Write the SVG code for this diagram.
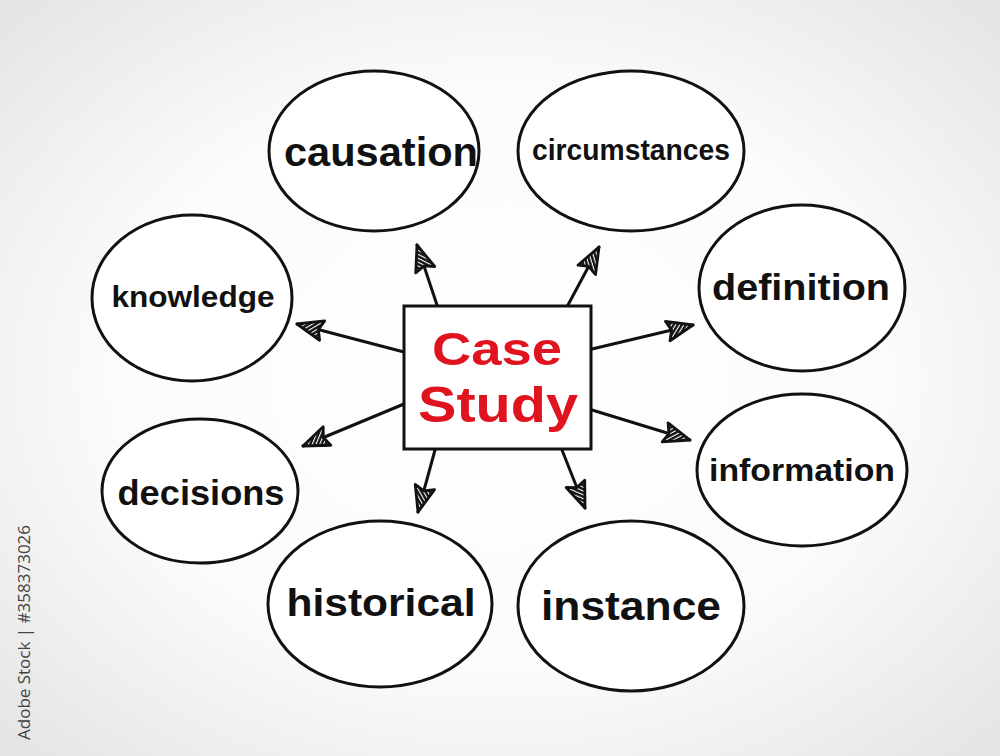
<svg xmlns="http://www.w3.org/2000/svg" width="1000" height="756" viewBox="0 0 1000 756">
<defs>
<radialGradient id="bg" cx="50%" cy="50%" r="70%">
<stop offset="0" stop-color="#ffffff"/>
<stop offset="0.55" stop-color="#fbfbfb"/>
<stop offset="1" stop-color="#e4e4e4"/>
</radialGradient>
<pattern id="hatch" width="3.5" height="3.5" patternUnits="userSpaceOnUse" patternTransform="rotate(45)">
<rect width="3.5" height="3.5" fill="#ffffff"/>
<rect width="2.4" height="3.5" fill="#111"/>
</pattern>
<marker id="arr" viewBox="0 0 30 24" refX="28" refY="12" markerWidth="30" markerHeight="24" markerUnits="userSpaceOnUse" orient="auto">
<path d="M2,2 L28,12 L2,22 L6,12 Z" fill="url(#hatch)" stroke="#111" stroke-width="2.8" stroke-linejoin="round"/>
</marker>
</defs>
<style>
.node ellipse{fill:#ffffff;stroke:#111;stroke-width:3}
.lbl{font-family:"Liberation Sans","Open Sans",sans-serif;font-weight:bold;fill:#111;text-anchor:middle}
.conn line{stroke:#111;stroke-width:3;stroke-linecap:round}
.ctext{font-family:"Liberation Sans","Open Sans",sans-serif;font-weight:bold;fill:#e0141e;text-anchor:middle}
</style>
<rect width="1000" height="756" fill="url(#bg)"/>
<text transform="translate(30,740) rotate(-90)" font-family="Open Sans, sans-serif" font-size="17" fill="#444">Adobe Stock | #358373026</text>

<g id="connectors" class="conn">
<line x1="437" y1="305" x2="417" y2="245" marker-end="url(#arr)"/>
<line x1="568" y1="305" x2="599" y2="247" marker-end="url(#arr)"/>
<line x1="404" y1="352" x2="297" y2="324" marker-end="url(#arr)"/>
<line x1="592" y1="349" x2="693" y2="325" marker-end="url(#arr)"/>
<line x1="404" y1="404" x2="303" y2="446" marker-end="url(#arr)"/>
<line x1="592" y1="410" x2="690" y2="440" marker-end="url(#arr)"/>
<line x1="435" y1="450" x2="418" y2="512" marker-end="url(#arr)"/>
<line x1="562" y1="450" x2="585" y2="508" marker-end="url(#arr)"/>
</g>

<g id="n-causation" class="node">
<ellipse cx="374" cy="151" rx="105" ry="80"/>
<text class="lbl" x="381" y="166" font-size="40" textLength="194" lengthAdjust="spacingAndGlyphs">causation</text>
</g>
<g id="n-circumstances" class="node">
<ellipse cx="631" cy="151" rx="113" ry="80"/>
<text class="lbl" x="631" y="160" font-size="29" textLength="198" lengthAdjust="spacingAndGlyphs">circumstances</text>
</g>
<g id="n-knowledge" class="node">
<ellipse cx="192" cy="298" rx="100" ry="83"/>
<text class="lbl" x="193" y="307" font-size="30" textLength="163" lengthAdjust="spacingAndGlyphs">knowledge</text>
</g>
<g id="n-definition" class="node">
<ellipse cx="802" cy="288" rx="103" ry="83"/>
<text class="lbl" x="801" y="300" font-size="36" textLength="178" lengthAdjust="spacingAndGlyphs">definition</text>
</g>
<g id="n-decisions" class="node">
<ellipse cx="200" cy="491" rx="98" ry="72"/>
<text class="lbl" x="201" y="505" font-size="35" textLength="167" lengthAdjust="spacingAndGlyphs">decisions</text>
</g>
<g id="n-information" class="node">
<ellipse cx="802" cy="470" rx="105" ry="76"/>
<text class="lbl" x="802" y="481" font-size="31" textLength="186" lengthAdjust="spacingAndGlyphs">information</text>
</g>
<g id="n-historical" class="node">
<ellipse cx="380" cy="604" rx="112" ry="83"/>
<text class="lbl" x="381" y="616" font-size="38" textLength="189" lengthAdjust="spacingAndGlyphs">historical</text>
</g>
<g id="n-instance" class="node">
<ellipse cx="631" cy="606" rx="113" ry="85"/>
<text class="lbl" x="631" y="620" font-size="40" textLength="180" lengthAdjust="spacingAndGlyphs">instance</text>
</g>

<g id="n-center">
<rect x="404" y="306" width="187" height="143" fill="#ffffff" stroke="#111" stroke-width="3"/>
<text class="ctext" x="497" y="365" font-size="47" textLength="130" lengthAdjust="spacingAndGlyphs">Case</text>
<text class="ctext" x="498" y="422" font-size="50" textLength="160" lengthAdjust="spacingAndGlyphs">Study</text>
</g>
</svg>
